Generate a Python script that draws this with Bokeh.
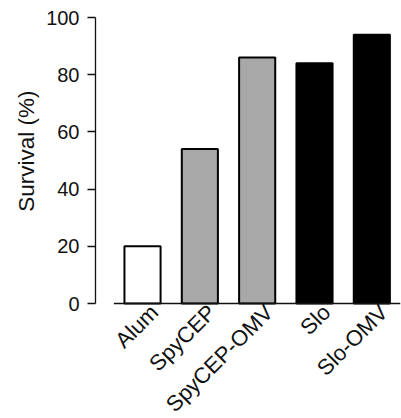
import math
from bokeh.plotting import figure
from bokeh.models import Range1d, FixedTicker, Title, ColumnDataSource
from bokeh.core.properties import value
from bokeh.embed import file_html
from bokeh.resources import INLINE

categories = ["Alum", "SpyCEP", "SpyCEP-OMV", "Slo", "Slo-OMV"]
survival = [20, 54, 86, 84, 94]
bar_colors = ["#ffffff", "#a8a8a8", "#a8a8a8", "#000000", "#000000"]
y_ticks = [0, 20, 40, 60, 80, 100]

FONT = "Liberation Sans"

xs = list(range(len(categories)))
src = ColumnDataSource(dict(x=xs, top=survival, color=bar_colors,
                            name=categories, base=[0] * len(categories)))

# the frame reaches down to the canvas bottom so the rotated category labels
# can be drawn below the zero line; the y axis line is bounded to 0..100
p = figure(width=401, height=418, output_backend="svg", toolbar_location=None,
           x_range=Range1d(-0.82, len(categories) - 0.5), y_range=Range1d(-40.2, 100),
           min_border_left=95, min_border_right=1, min_border_top=17, min_border_bottom=0)
p.outline_line_color = None
p.xgrid.visible = False
p.ygrid.visible = False
p.xaxis.visible = False

p.vbar(x="x", top="top", bottom=0, width=0.63, fill_color="color",
       line_color="#000000", line_width=2, source=src)

# baseline under the bars
p.segment(x0=[-0.5], y0=[0], x1=[len(categories) - 0.5], y1=[0],
          line_color="#111111", line_width=1.5)

# category labels, rotated 45 degrees under each bar
p.text(x="x", y="base", text="name", source=src, angle=math.pi / 4,
       text_align="right", text_baseline="middle", x_offset=12, y_offset=5,
       text_font=value(FONT), text_font_size=value("22px"), text_color="#111111")

# y axis
ya = p.yaxis[0]
ya.ticker = FixedTicker(ticks=y_ticks)
ya.bounds = (0, 100)
ya.minor_tick_line_color = None
ya.major_tick_in = 0
ya.major_tick_out = 8
ya.major_tick_line_width = 1.3
ya.axis_line_width = 1.3
ya.axis_line_color = "#111111"
ya.major_tick_line_color = "#111111"
ya.major_label_text_font = FONT
ya.major_label_text_font_size = "20px"
ya.major_label_text_color = "#111111"
ya.major_label_standoff = 8

p.add_layout(Title(text="Survival (%)", align="right", offset=73,
                   text_font=FONT, text_font_size="22.5px", text_font_style="normal",
                   text_color="#111111"), "left")

open("out.html", "w").write(file_html(p, INLINE))
